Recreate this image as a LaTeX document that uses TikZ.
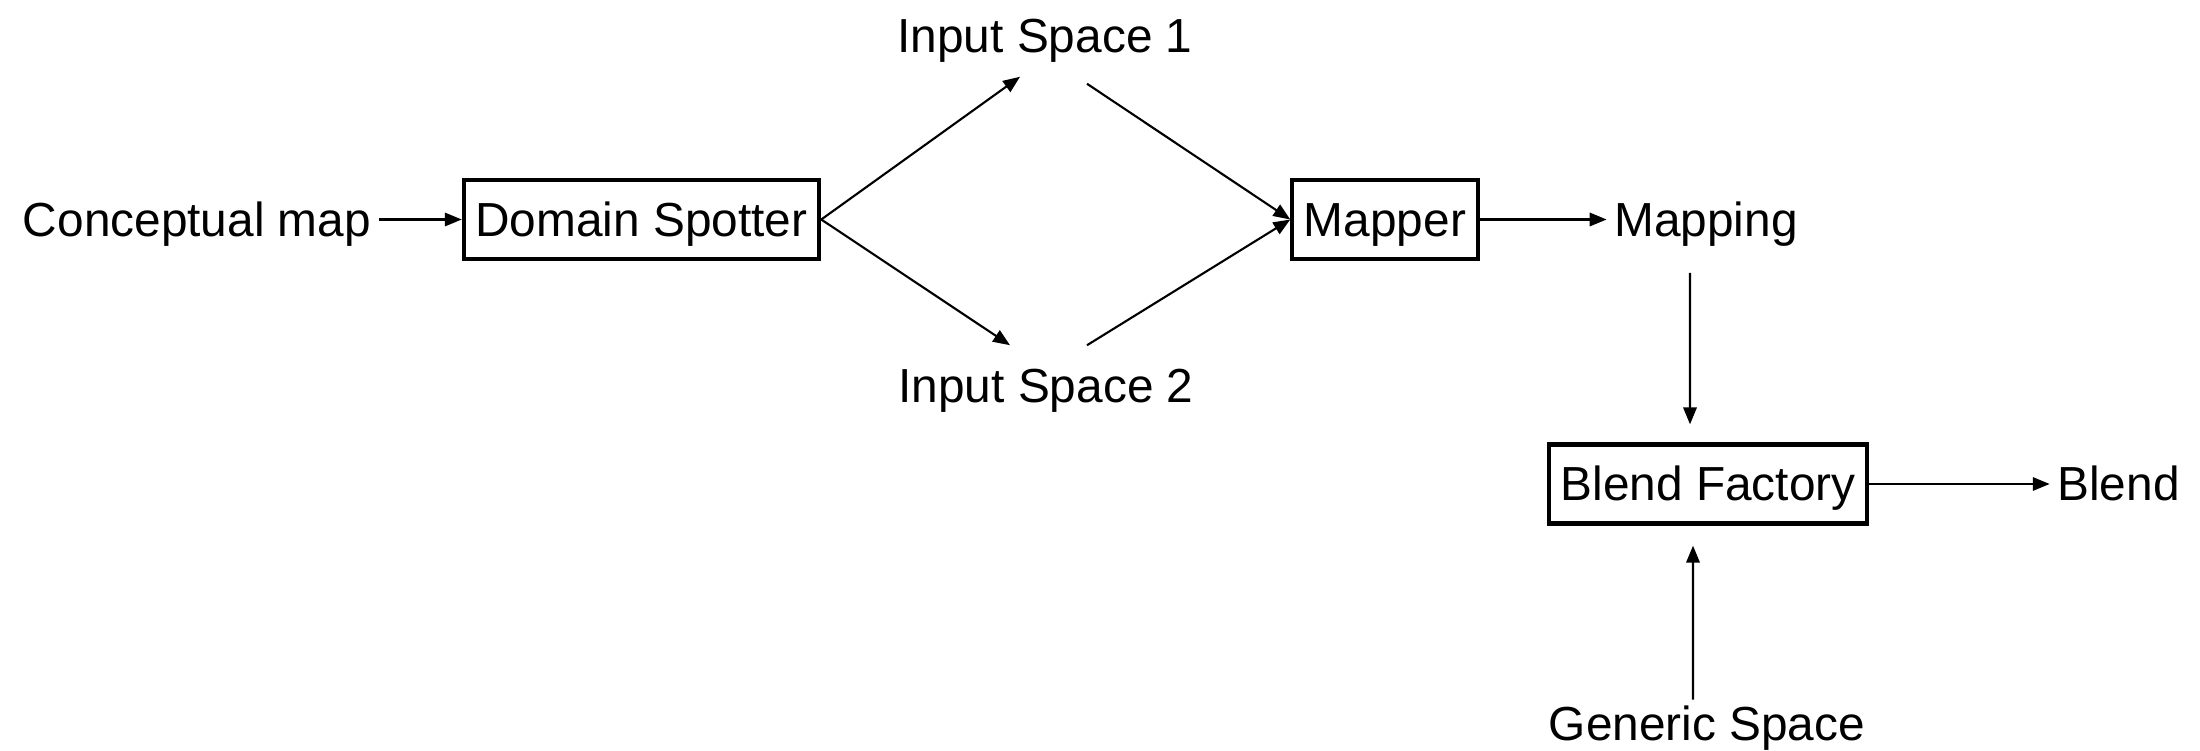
\documentclass[tikz,border=0pt]{standalone}
\usepackage{fontspec}
\setmainfont{Liberation Sans}
\usetikzlibrary{arrows.meta}

\begin{document}
\begin{tikzpicture}[
	font=\fontsize{13.6}{16}\selectfont,
	label/.style={inner xsep=2pt, inner ysep=0pt, text height=11.5pt, text depth=2pt},
	iospace/.style={label, minimum height=22.8pt},
	block/.style={draw, line width=1.2pt, inner xsep=3.3pt, inner ysep=4.5pt, text height=11.5pt, text depth=2pt},
	conn/.style={line width=0.6pt, -{Triangle[length=4.8pt,width=3.8pt]}}]
	\useasboundingbox (0,0) rectangle (22,-7.51);
	\node [label] (cmap) at (1.97,-2.195) {Conceptual map};
	\node [block] (ds) at (6.415,-2.195) {Domain Spotter};
	\node [iospace] (in1) at (10.45,-0.36) {Input Space 1};
	\node [iospace] (in2) at (10.46,-3.86) {Input Space 2};
	\node [block] (mapper) at (13.85,-2.195) {Mapper};
	\node [label] (mapping) at (17.06,-2.195) {Mapping};
	\node [block] (bf) at (17.08,-4.84) {Blend Factory};
	\node [label] (blend) at (21.185,-4.84) {Blend};
	\node [label] (generic) at (17.07,-7.24) {Generic Space};
	\draw [conn] (cmap) -- (ds);
	\draw [conn] (ds.east) -- ([xshift=-2.5mm]in1.south);
	\draw [conn] (ds.east) -- ([xshift=-3.6mm]in2.north);
	\draw [conn] ([xshift=4.2mm,yshift=-0.7mm]in1.south) -- (mapper.west);
	\draw [conn] ([xshift=4.1mm]in2.north) -- (mapper.west);
	\draw [conn] (mapper) -- (mapping);
	\draw [conn, shorten <=2.9mm, shorten >=1.8mm] ([xshift=-1.6mm]mapping.south) -- ([xshift=-1.8mm]bf.north);
	\draw [conn, shorten >=2mm] ([xshift=-1.4mm]generic.north) -- ([xshift=-1.5mm]bf.south);
	\draw [conn] (bf) -- (blend);
\end{tikzpicture}
\end{document}
